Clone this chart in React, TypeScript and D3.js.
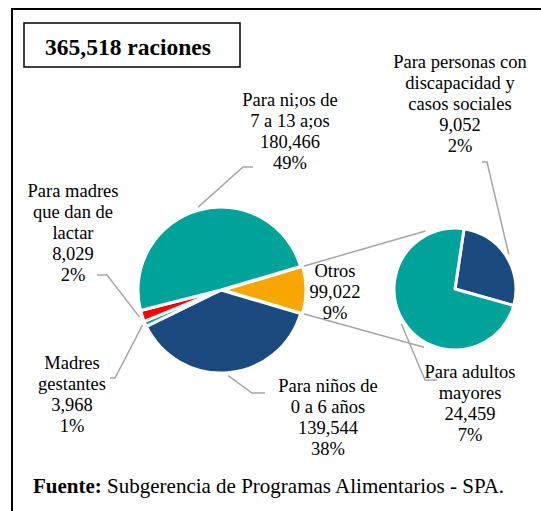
import React from 'react';
import * as d3 from 'd3';

// secondary pie ("Otros" broken out)
const secondaryLabels = [
  ['Para personas con', 'discapacidad y', 'casos sociales'],
  ['Para adultos', 'mayores'],
];
const secondaryValues = [9052, 24459];

// main pie, clockwise starting with the "Otros" slice
const mainLabels = [
  ['Otros'],
  ['Para niños de', '0 a 6 años'],
  ['Madres', 'gestantes'],
  ['Para madres', 'que dan de', 'lactar'],
  ['Para ni;os de', '7 a 13 a;os'],
];
const mainValues = [d3.sum(secondaryValues), 139544, 3968, 8029, 180466];
// the source prints this number on the "Otros" label
const otrosPrintedValue = 99022;

const titleUnit = 'raciones';
const sourceBold = 'Fuente:';
const sourceText = ' Subgerencia de Programas Alimentarios - SPA.';

const mainColors = ['#F9A602', '#1B4A80', '#00A39A', '#FF0000', '#00A39A'];
const secondaryColors = ['#1B4A80', '#00A39A'];

const W = 541;
const H = 511;
const FONT = 'Liberation Serif';
const LINE = 21;
const LEADER = '#A6A6A6';

const main = { cx: 221, cy: 290, r: 83 };
const second = { cx: 455, cy: 289, r: 61 };

// label layout: text centre, first baseline, elbow and end of the leader
const mainLayout = [
  { x: 335, y: 277, elbow: null, end: null },
  { x: 328, y: 392, elbow: [252, 393], end: [265, 393] },
  { x: 72, y: 369, elbow: [115, 378], end: [110, 378] },
  { x: 73, y: 197, elbow: [107, 275], end: [97, 275] },
  { x: 290, y: 106, elbow: [243, 167], end: [253, 167] },
];
const secondLayout = [
  { x: 460, y: 68, elbow: [487, 162], end: [482, 162] },
  { x: 470, y: 378, elbow: [425, 380], end: [437, 380] },
];

const total = d3.sum(mainValues);
const fmtNum = d3.format(',');
const fmtPct = d3.format('.0%');
const deg = Math.PI / 180;

const pointAt = (cx: number, cy: number, a: number, r: number): [number, number] => [
  cx + r * Math.sin(a),
  cy - r * Math.cos(a),
];

const otrosAngle = (2 * Math.PI * mainValues[0]) / total;
const mainStart = Math.PI / 2 - otrosAngle / 2;
const mainArcs = d3
  .pie<number>()
  .sort(null)
  .value((d) => d)
  .startAngle(mainStart)
  .endAngle(mainStart + 2 * Math.PI)(mainValues);

const secondStart = 8.5 * deg;
const secondArcs = d3
  .pie<number>()
  .sort(null)
  .value((d) => d)
  .startAngle(secondStart)
  .endAngle(secondStart + 2 * Math.PI)(secondaryValues);

const mainArc = d3.arc<d3.PieArcDatum<number>>().innerRadius(0).outerRadius(main.r);
const secondArc = d3.arc<d3.PieArcDatum<number>>().innerRadius(0).outerRadius(second.r);

const explode = 2;

const Label = ({ x, y, lines }: { x: number; y: number; lines: string[] }) => (
  <text x={x} y={y} textAnchor="middle" fontFamily={FONT} fontSize={18.5} fill="#000">
    {lines.map((l, i) => (
      <tspan key={i} x={x} dy={i === 0 ? 0 : LINE}>
        {l}
      </tspan>
    ))}
  </text>
);

export default function App() {
  const otros = mainArcs[0];
  const otrosMid = (otros.startAngle + otros.endAngle) / 2;
  const ox = explode * Math.sin(otrosMid);
  const oy = -explode * Math.cos(otrosMid);
  const upperFrom = pointAt(main.cx + ox, main.cy + oy, otros.startAngle, main.r);
  const lowerFrom = pointAt(main.cx + ox, main.cy + oy, otros.endAngle, main.r);
  const upperTo = pointAt(second.cx, second.cy, 333 * deg, second.r + 4);
  const lowerTo = pointAt(second.cx, second.cy, 208 * deg, second.r + 5);

  const leader = (cx: number, cy: number, r: number, a: d3.PieArcDatum<number>, lay: any) => {
    if (!lay.elbow) return null;
    const mid = (a.startAngle + a.endAngle) / 2;
    const p = pointAt(cx, cy, mid, r + 3);
    return (
      <polyline
        points={[p, lay.elbow, lay.end].map((q) => q.join(',')).join(' ')}
        fill="none"
        stroke={LEADER}
        strokeWidth={1.5}
      />
    );
  };

  return (
    <svg width={W} height={H} style={{ position: 'absolute', left: 0, top: 0, background: '#fff' }}>
      <rect x={12} y={9} width={700} height={700} fill="none" stroke="#000" strokeWidth={2} />

      <rect x={24} y={23} width={216} height={44} fill="none" stroke="#000" strokeWidth={1.5} />
      <text x={128} y={55} textAnchor="middle" fontFamily={FONT} fontSize={23.5} fontWeight="bold">
        {`${fmtNum(total)} ${titleUnit}`}
      </text>

      {/* connectors between the pies */}
      <line x1={upperFrom[0]} y1={upperFrom[1]} x2={upperTo[0]} y2={upperTo[1]} stroke={LEADER} strokeWidth={1.5} />
      <line x1={lowerFrom[0]} y1={lowerFrom[1]} x2={lowerTo[0]} y2={lowerTo[1]} stroke={LEADER} strokeWidth={1.5} />

      <g transform={`translate(${main.cx},${main.cy})`}>
        {mainArcs.map((a, i) => (
          <path
            key={i}
            d={mainArc(a) || ''}
            fill={mainColors[i]}
            stroke="#fff"
            strokeWidth={3}
            strokeLinejoin="round"
            transform={i === 0 ? `translate(${ox},${oy})` : undefined}
          />
        ))}
      </g>
      <g transform={`translate(${second.cx},${second.cy})`}>
        {secondArcs.map((a, i) => (
          <path key={i} d={secondArc(a) || ''} fill={secondaryColors[i]} stroke="#fff" strokeWidth={3} strokeLinejoin="round" />
        ))}
      </g>

      {mainArcs.map((a, i) => (
        <g key={i}>{leader(main.cx, main.cy, main.r, a, mainLayout[i])}</g>
      ))}
      {secondArcs.map((a, i) => (
        <g key={i}>{leader(second.cx, second.cy, second.r, a, secondLayout[i])}</g>
      ))}

      {mainLabels.map((lines, i) => (
        <Label
          key={i}
          x={mainLayout[i].x}
          y={mainLayout[i].y}
          lines={[...lines, fmtNum(i === 0 ? otrosPrintedValue : mainValues[i]), fmtPct(mainValues[i] / total)]}
        />
      ))}
      {secondaryLabels.map((lines, i) => (
        <Label
          key={i}
          x={secondLayout[i].x}
          y={secondLayout[i].y}
          lines={[...lines, fmtNum(secondaryValues[i]), fmtPct(secondaryValues[i] / total)]}
        />
      ))}

      <text x={33} y={493} fontFamily={FONT} fontSize={21} fill="#000">
        <tspan fontWeight="bold">{sourceBold}</tspan>
        <tspan>{sourceText}</tspan>
      </text>
    </svg>
  );
}
